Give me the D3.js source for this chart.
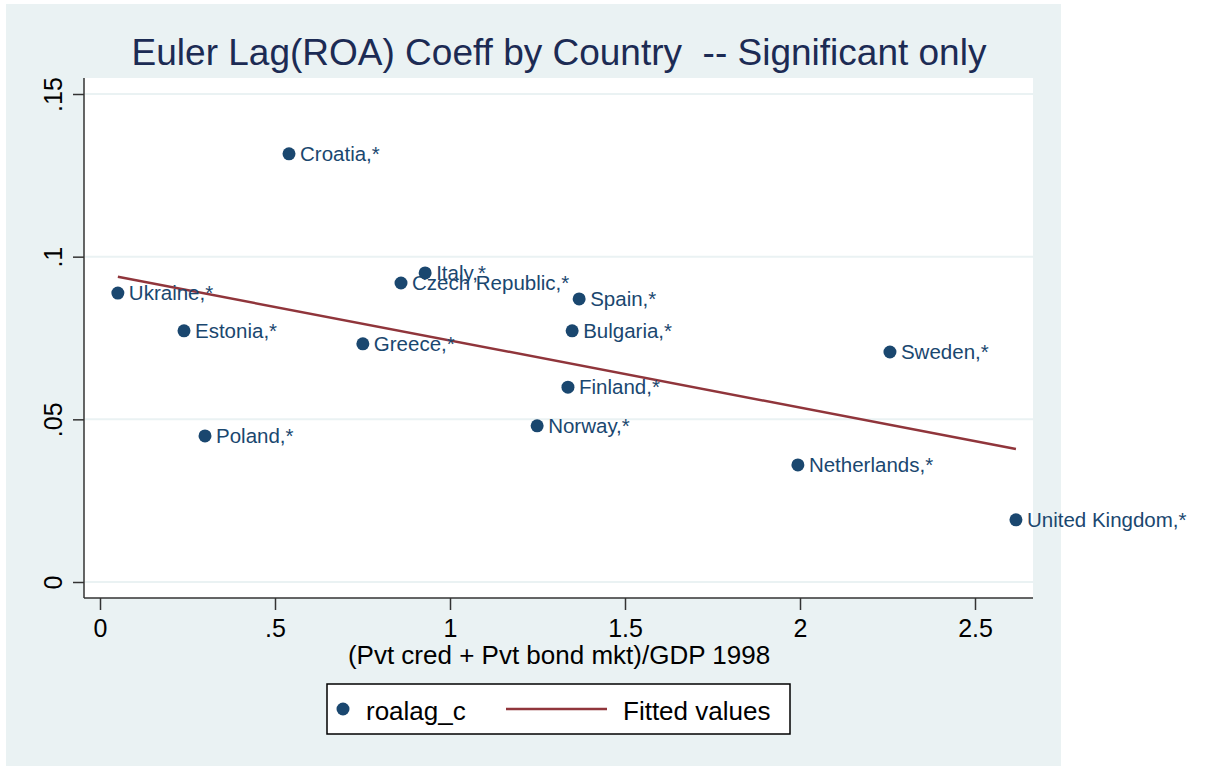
<!DOCTYPE html>
<html>
<head>
<meta charset="utf-8">
<script src="https://cdn.jsdelivr.net/npm/d3@7"></script>
<style>
  body { margin: 0; background: #fff; }
  text { font-family: "Liberation Sans", Arial, sans-serif; }
</style>
</head>
<body>
<svg id="chart" width="1205" height="769"></svg>
<script>
// values
var countries = ["Ukraine", "Croatia", "Estonia", "Poland", "Greece", "Czech Republic", "Italy",
  "Spain", "Bulgaria", "Finland", "Norway", "Sweden", "Netherlands", "United Kingdom"];
var credGdp = [0.051, 0.540, 0.240, 0.300, 0.751, 0.860, 0.929, 1.369, 1.349, 1.337, 1.249, 2.257, 1.994, 2.617];
var roaLag = [0.0888, 0.1316, 0.0772, 0.0449, 0.0732, 0.0919, 0.0950, 0.0870, 0.0772, 0.0599, 0.0480, 0.0707, 0.0360, 0.0191];
var fitX = [0.051, 2.617];
var fitY = [0.0938, 0.0409];
var xTicks = [0, 0.5, 1, 1.5, 2, 2.5];
var yTicks = [0, 0.05, 0.1, 0.15];

var navy = "#1a476f", maroon = "#90353b", bg = "#eaf2f3";

var svg = d3.select("#chart");

// outer graph region
svg.append("rect").attr("x", 6).attr("y", 4).attr("width", 1055).attr("height", 762).attr("fill", bg);

var pLeft = 84, pRight = 1033, pTop = 78, pBottom = 598;
svg.append("rect").attr("x", pLeft).attr("y", pTop).attr("width", pRight - pLeft).attr("height", pBottom - pTop).attr("fill", "#fff");

var x = d3.scaleLinear().domain([0, 2.5]).range([100, 975]);
var y = d3.scaleLinear().domain([0, 0.15]).range([582, 94]);

function fmt(v) { return d3.format("~g")(v).replace(/^0\./, "."); }

// gridlines
svg.append("g").selectAll("line").data(yTicks).enter().append("line")
  .attr("x1", pLeft + 1).attr("x2", pRight)
  .attr("y1", function (d) { return y(d); }).attr("y2", function (d) { return y(d); })
  .attr("stroke", bg).attr("stroke-width", 2);

// y axis
var yAxis = svg.append("g").attr("transform", "translate(" + pLeft + ",0)")
  .call(d3.axisLeft(y).tickValues(yTicks).tickSize(11).tickPadding(0).tickFormat(fmt));
yAxis.select(".domain").attr("d", "M0," + pTop + "V" + pBottom).attr("stroke", "#333").attr("stroke-width", 1.5);
yAxis.selectAll(".tick line").attr("stroke", "#333").attr("stroke-width", 1.5);
yAxis.selectAll(".tick text")
  .attr("x", null).attr("dy", null)
  .attr("text-anchor", "middle")
  .attr("transform", "translate(-22,0) rotate(-90)")
  .attr("font-size", 25).attr("fill", "#000");

// x axis
var xAxis = svg.append("g").attr("transform", "translate(0," + pBottom + ")")
  .call(d3.axisBottom(x).tickValues(xTicks).tickSize(12).tickPadding(0).tickFormat(fmt));
xAxis.select(".domain").attr("d", "M" + pLeft + ",0H" + pRight).attr("stroke", "#333").attr("stroke-width", 1.5);
xAxis.selectAll(".tick line").attr("stroke", "#333").attr("stroke-width", 1.5);
xAxis.selectAll(".tick text").attr("y", 39).attr("dy", null)
  .attr("font-size", 25).attr("fill", "#000");

svg.append("text").attr("x", 559).attr("y", 664).attr("text-anchor", "middle")
  .attr("font-size", 26).attr("fill", "#000").text("(Pvt cred + Pvt bond mkt)/GDP 1998");

// title
svg.append("text").attr("x", 559).attr("y", 65).attr("text-anchor", "middle")
  .attr("font-size", 37).attr("fill", "#1c2b54").style("white-space", "pre")
  .text("Euler Lag(ROA) Coeff by Country  -- Significant only");

// fitted line
svg.append("path")
  .datum(d3.zip(fitX, fitY))
  .attr("d", d3.line().x(function (d) { return x(d[0]); }).y(function (d) { return y(d[1]); }))
  .attr("fill", "none").attr("stroke", maroon).attr("stroke-width", 2.5);

// points + labels
var pts = svg.append("g").selectAll("g").data(countries).enter().append("g")
  .attr("transform", function (d, i) { return "translate(" + x(credGdp[i]) + "," + y(roaLag[i]) + ")"; });
pts.append("circle").attr("r", 6.5).attr("fill", navy);
pts.append("text").attr("x", 11).attr("y", 7).attr("font-size", 20.5).attr("fill", navy)
  .text(function (d) { return d + ",*"; });

// legend
var lg = svg.append("g");
lg.append("rect").attr("x", 327).attr("y", 684).attr("width", 463).attr("height", 50)
  .attr("fill", "#fff").attr("stroke", "#000").attr("stroke-width", 1.5);
lg.append("circle").attr("cx", 343).attr("cy", 709).attr("r", 6.5).attr("fill", navy);
lg.append("text").attr("x", 366).attr("y", 720).attr("font-size", 26).attr("fill", "#000").text("roalag_c");
lg.append("line").attr("x1", 506).attr("x2", 607).attr("y1", 709).attr("y2", 709)
  .attr("stroke", maroon).attr("stroke-width", 2.5);
lg.append("text").attr("x", 623).attr("y", 720).attr("font-size", 26).attr("fill", "#000").text("Fitted values");
</script>
</body>
</html>
